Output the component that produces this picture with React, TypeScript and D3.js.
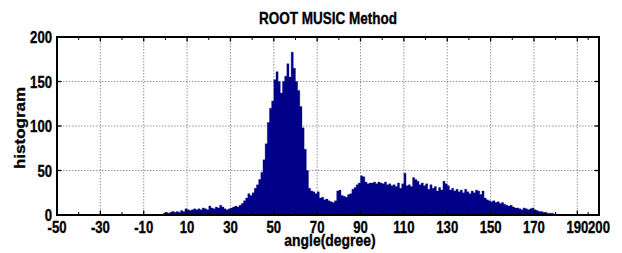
import React from "react";
import * as d3 from "d3";

const title = "ROOT MUSIC Method";
const xLabel = "angle(degree)";
const yLabel = "histogram";

// histogram bins: each bin starts at binStart + i (1 degree wide)
const binStart = -1;
const counts = [
  2, 3, 2, 3, 4, 3, 4, 3, 5, 4,
  7, 6, 5, 6, 7, 6, 7, 6, 8, 7,
  6, 10, 8, 7, 9, 8, 11, 9, 7, 6,
  7, 8, 9, 10, 9, 11, 13, 16, 19, 24,
  22, 25, 30, 34, 40, 48, 62, 80, 104, 120,
  128, 152, 161, 150, 137, 150, 156, 170, 155, 183,
  165, 150, 140, 122, 98, 74, 50, 30, 27, 26,
  24, 26, 19, 20, 17, 18, 16, 15, 14, 16,
  27, 28, 22, 21, 20, 23, 24, 29, 31, 34,
  36, 44, 43, 37, 35, 36, 36, 37, 35, 37,
  36, 35, 37, 34, 35, 33, 34, 32, 36, 30,
  35, 47, 33, 34, 32, 42, 40, 38, 34, 36,
  33, 35, 29, 34, 30, 32, 27, 31, 28, 38,
  35, 33, 28, 30, 27, 29, 26, 28, 25, 29,
  26, 24, 27, 25, 28, 27, 23, 27, 19, 17,
  16, 15, 16, 14, 15, 13, 14, 12, 11, 10,
  11, 9, 8, 8, 7, 6, 8, 7, 6, 7,
  8, 6, 5, 4, 4, 3, 3, 2, 2, 2,
  1,
];

const xTickLabels = [-50, -30, -10, 10, 30, 50, 70, 90, 110, 130, 150, 170, 190, 200];
const xMinorTicks = [-40, -20, 0, 20, 40, 60, 80, 100, 120, 140, 160, 180, 195];
const yTicks = [0, 50, 100, 150, 200];

const W = 622;
const H = 253;
const L = 57, R = 599, T = 37, B = 215;
const SX = 0.82;
const FONT = "'Liberation Sans', Arial, Helvetica, sans-serif";
const TXT = { fontFamily: FONT, fontWeight: "bold" as const, fill: "#000", stroke: "#000", strokeWidth: 0.35 };

export default function App() {
  const x = d3.scaleLinear().domain([-50, 200]).range([L, R]);
  const y = d3.scaleLinear().domain([0, 200]).range([B, T]);

  const pts: [number, number][] = counts.map((c, i) => [binStart + i, c]);
  pts.push([binStart + counts.length, counts[counts.length - 1]]);
  const area = d3
    .area<[number, number]>()
    .x((d) => x(d[0]))
    .y0(y(0))
    .y1((d) => y(d[1]))
    .curve(d3.curveStepAfter);

  const gridX = xTickLabels.filter((v) => v > -50 && v < 200);
  const gridY = yTicks.filter((v) => v > 0 && v < 200);

  return (
    <svg width={W} height={H} style={{ position: "absolute", left: 0, top: 0, background: "#fff" }}>
      <rect x={0} y={0} width={W} height={H} fill="#fff" />
      {/* grid */}
      {gridX.map((v) => (
        <line key={"gx" + v} x1={x(v)} x2={x(v)} y1={T} y2={B} stroke="#8a8a8a" strokeWidth={0.9} strokeDasharray="1.5,1.5" />
      ))}
      {gridY.map((v) => (
        <line key={"gy" + v} x1={L} x2={R} y1={y(v)} y2={y(v)} stroke="#8a8a8a" strokeWidth={0.9} strokeDasharray="1.5,1.5" />
      ))}
      {/* histogram */}
      <path d={area(pts) || ""} fill="#000088" stroke="#000088" strokeWidth={0.3} />
      {/* ticks */}
      {xTickLabels.map((v) => (
        <g key={"xt" + v}>
          <line x1={x(v)} x2={x(v)} y1={B} y2={B - 4.5} stroke="#000" strokeWidth={1.3} />
          <line x1={x(v)} x2={x(v)} y1={T} y2={T + 4.5} stroke="#000" strokeWidth={1.3} />
        </g>
      ))}
      {xMinorTicks.map((v) => (
        <g key={"xm" + v}>
          <line x1={x(v)} x2={x(v)} y1={B} y2={B - 3} stroke="#000" strokeWidth={1} />
          <line x1={x(v)} x2={x(v)} y1={T} y2={T + 3} stroke="#000" strokeWidth={1} />
        </g>
      ))}
      {yTicks.map((v) => (
        <g key={"yt" + v}>
          <line x1={L} x2={L + 4.5} y1={y(v)} y2={y(v)} stroke="#000" strokeWidth={1.3} />
          <line x1={R} x2={R - 4.5} y1={y(v)} y2={y(v)} stroke="#000" strokeWidth={1.3} />
        </g>
      ))}
      {/* box */}
      <rect x={L} y={T} width={R - L} height={B - T} fill="none" stroke="#000" strokeWidth={2} />
      {/* tick labels */}
      {xTickLabels.map((v) => (
        <text
          key={"xl" + v}
          transform={`translate(${x(v)},${B + 18}) scale(${SX},1)`}
          textAnchor="middle"
          fontSize={16}
          {...TXT}
        >
          {v}
        </text>
      ))}
      {yTicks.map((v) => (
        <text
          key={"yl" + v}
          transform={`translate(${L - 5},${y(v) + 6}) scale(${SX},1)`}
          textAnchor="end"
          fontSize={16}
          {...TXT}
        >
          {v}
        </text>
      ))}
      {/* title */}
      <text
        transform={`translate(${(L + R) / 2},${24}) scale(${SX},1)`}
        textAnchor="middle"
        fontSize={16.5}
        {...TXT}
      >
        {title}
      </text>
      {/* x label */}
      <text
        transform={`translate(${(L + R) / 2 + 2},${246}) scale(${SX},1)`}
        textAnchor="middle"
        fontSize={17}
        {...TXT}
      >
        {xLabel}
      </text>
      {/* y label */}
      <text
        transform={`translate(${25},${(T + B) / 2 + 2}) rotate(-90) scale(1,${SX})`}
        textAnchor="middle"
        fontSize={17}
        {...TXT}
      >
        {yLabel}
      </text>
    </svg>
  );
}
